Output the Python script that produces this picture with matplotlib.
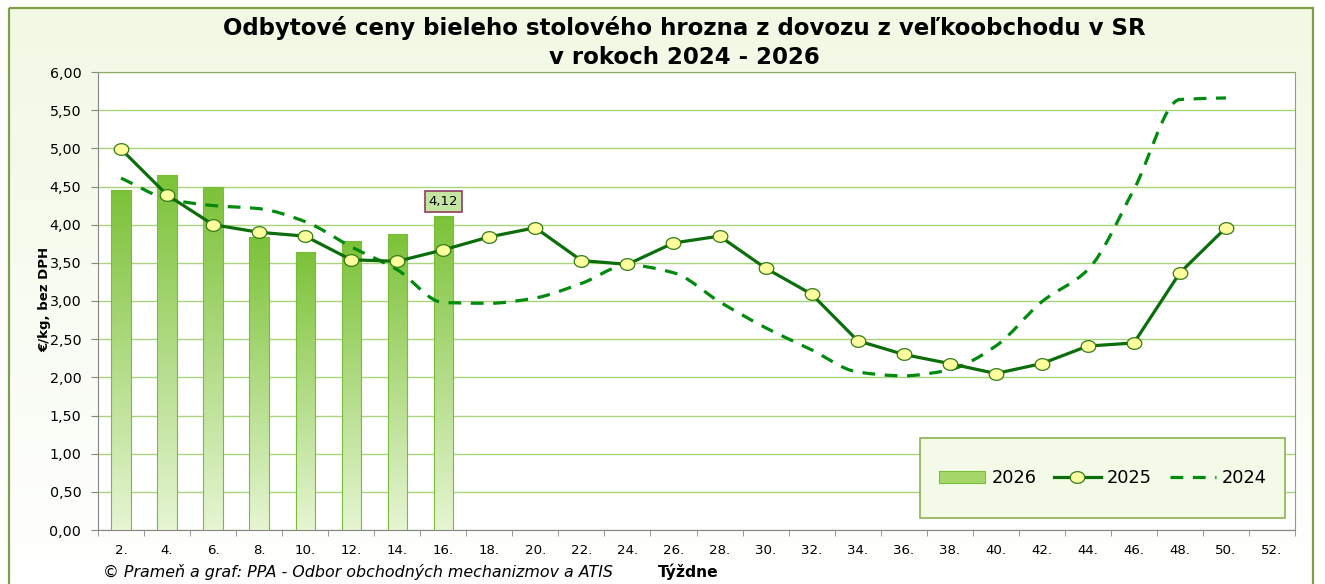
import numpy as np
import matplotlib
matplotlib.use("Agg")
import matplotlib.pyplot as plt
import matplotlib.ticker as ticker
from matplotlib.patches import Rectangle, Patch, PathPatch
from matplotlib.path import Path
from matplotlib.lines import Line2D
from matplotlib.colors import LinearSegmentedColormap

# Data
tyzdne = [f"{w}." for w in range(2, 53, 2)]
ceny_2026 = [4.45, 4.65, 4.50, 3.84, 3.64, 3.78, 3.88, 4.12]
ceny_2025 = [4.99, 4.39, 4.00, 3.90, 3.85, 3.54, 3.52, 3.67, 3.84, 3.96,
             3.53, 3.48, 3.76, 3.85, 3.43, 3.09, 2.48, 2.30, 2.18, 2.05,
             2.18, 2.41, 2.45, 3.37, 3.96]
ceny_2024 = [4.61, 4.34, 4.25, 4.21, 4.04, 3.71, 3.41, 2.98, 2.97, 3.04,
             3.23, 3.47, 3.37, 2.99, 2.65, 2.36, 2.07, 2.02, 2.10, 2.41,
             2.99, 3.41, 4.46, 5.64, 5.66]

W, H = 1325, 584
plt.rcParams["font.family"] = "DejaVu Sans"


def fx(px):
    return px / W


def fy(py):
    return 1 - py / H


def smooth_path(x, y):
    # smoothed line drawn as cubic Bezier segments (monotone tangents, no overshoot)
    x = np.asarray(x, float)
    y = np.asarray(y, float)
    d = np.diff(y) / np.diff(x)
    m = np.zeros_like(y)
    m[0], m[-1] = d[0], d[-1]
    for k in range(1, len(y) - 1):
        if d[k - 1] * d[k] > 0:
            m[k] = 2 / (1 / d[k - 1] + 1 / d[k])
    verts = [(x[0], y[0])]
    codes = [Path.MOVETO]
    for k in range(len(y) - 1):
        h = x[k + 1] - x[k]
        verts += [(x[k] + h / 3, y[k] + m[k] * h / 3),
                  (x[k + 1] - h / 3, y[k + 1] - m[k + 1] * h / 3),
                  (x[k + 1], y[k + 1])]
        codes += [Path.CURVE4] * 3
    return Path(verts, codes)


# slightly wide ellipse marker, like the stretched original
t = np.linspace(0, 2 * np.pi, 60)
elipsa = Path(np.column_stack([1.25 * np.cos(t), np.sin(t)]), closed=True)

fig = plt.figure(figsize=(W / 100, H / 100), dpi=100)
fig.patch.set_facecolor("white")

# chart area background with gradient and border
bg = fig.add_axes([0, 0, 1, 1], zorder=-10)
bg_cmap = LinearSegmentedColormap.from_list("bg", ["#F1F9E4", "#FFFFFF"])
bg.imshow(np.linspace(0, 1, 256).reshape(-1, 1), extent=[9, 1313, H, 8],
          cmap=bg_cmap, aspect="auto", origin="upper")
bg.add_patch(Rectangle((9, 8), 1304, 700, fill=False, ec="#7E9F48", lw=1.6))
bg.set_xlim(0, W)
bg.set_ylim(H, 0)
bg.axis("off")

# plot area
ax = fig.add_axes([fx(98), fy(530), fx(1295) - fx(98), fy(72) - fy(530)])
ax.set_facecolor("white")
x = np.arange(len(tyzdne))

bars = ax.bar(x[:len(ceny_2026)], ceny_2026, width=0.42, color="none",
              edgecolor="#78BC3A", lw=0.8, zorder=3)
bar_cmap = LinearSegmentedColormap.from_list("bar", ["#E6F5D3", "#7CC238"])
grad = np.linspace(0, 1, 256).reshape(-1, 1)
for b in bars:
    x0, y0, w, h = b.get_x(), b.get_y(), b.get_width(), b.get_height()
    im = ax.imshow(grad, extent=[x0, x0 + w, y0, y0 + h], origin="lower",
                   cmap=bar_cmap, aspect="auto", zorder=2.9)
    im.set_clip_path(b)

ax.annotate(f"{ceny_2026[-1]:.2f}".replace(".", ","),
            xy=(len(ceny_2026) - 1, ceny_2026[-1]), xytext=(0, 10),
            textcoords="offset points", ha="center", va="center", fontsize=9.5,
            bbox=dict(boxstyle="square,pad=0.3", fc="#C5E5A3", ec="#8E3B63", lw=1.2),
            zorder=6)

ax.add_patch(PathPatch(smooth_path(x[:len(ceny_2024)], ceny_2024), fill=False,
                       ec="#008A0E", lw=2.3, linestyle=(0, (4, 3)), zorder=4,
                       capstyle="butt"))

ax.plot(x[:len(ceny_2025)], ceny_2025, color="#0B6E0B", lw=2.3, marker=elipsa,
        markersize=10.5, markerfacecolor="#FFFF9E", markeredgecolor="#2F7D14",
        markeredgewidth=0.9, zorder=5)

ax.set_xlim(-0.5, len(tyzdne) - 0.5)
ax.set_ylim(0, 6)
ax.set_yticks(np.arange(0, 6.01, 0.5))
ax.yaxis.set_major_formatter(ticker.FuncFormatter(lambda v, p: f"{v:.2f}".replace(".", ",")))
ax.set_xticks(x)
ax.set_xticklabels(tyzdne)
ax.set_xticks(np.arange(-0.5, len(tyzdne), 1), minor=True)
ax.tick_params(axis="x", which="major", length=0, pad=10, labelsize=9.6)
ax.tick_params(axis="x", which="minor", length=4, color="#868686", direction="out")
ax.tick_params(axis="y", length=5, color="#868686", pad=7, labelsize=10.3)
ax.grid(axis="y", color="#A9D47B", lw=1)
ax.set_axisbelow(True)

for s in ["left", "bottom"]:
    ax.spines[s].set_color("#868686")
for s in ["top", "right"]:
    ax.spines[s].set_color("#8CA860")

# legend
fig.add_artist(Rectangle((fx(920), fy(518)), fx(1285) - fx(920), fy(438) - fy(518),
                         transform=fig.transFigure, fc="#F3FBE8", ec="#8DB254",
                         lw=1.2, zorder=3))
handles = [
    Patch(facecolor="#A6D76A", edgecolor="#78BC3A", lw=0.8),
    Line2D([], [], color="#0B6E0B", lw=2.3, marker=elipsa, markersize=10.5,
           markerfacecolor="#FFFF9E", markeredgecolor="#2F7D14", markeredgewidth=0.9),
    Line2D([], [], color="#008A0E", lw=2.3, linestyle=(0, (4, 3))),
]
leg = fig.legend(handles, ["2026", "2025", "2024"], ncol=3, loc="center",
                 bbox_to_anchor=(fx(1103), fy(478)), frameon=False, fontsize=12.8,
                 handlelength=2.6, handletextpad=0.35, columnspacing=1.0)
leg.set_zorder(4)

# texts
fig.text(fx(684), fy(28), "Odbytové ceny bieleho stolového hrozna z dovozu z veľkoobchodu v SR",
         ha="center", va="center", fontsize=16.5, fontweight="bold")
fig.text(fx(684), fy(57), "v rokoch 2024 - 2026", ha="center", va="center",
         fontsize=16.5, fontweight="bold")
fig.text(fx(45), fy(299), "€/kg, bez DPH", rotation=90, ha="center", va="center",
         fontsize=9.5, fontweight="bold")
fig.text(fx(103), fy(572), "© Prameň a graf: PPA - Odbor obchodných mechanizmov a ATIS",
         ha="left", va="center", fontsize=11.4, style="italic")
fig.text(fx(688), fy(572), "Týždne", ha="center", va="center", fontsize=11.2,
         fontweight="bold")

fig.savefig("out.png", dpi=100)
